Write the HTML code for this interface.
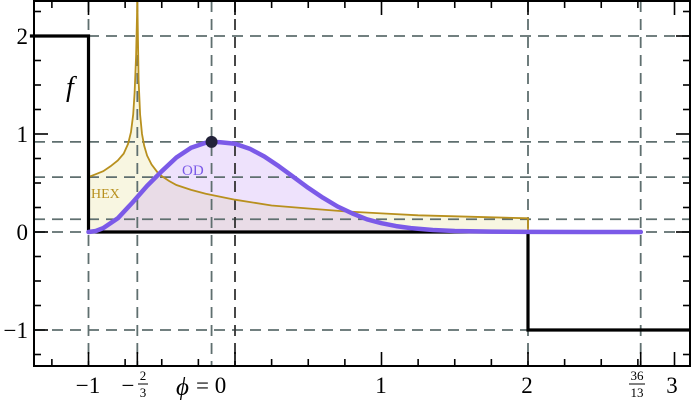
<!DOCTYPE html>
<html><head><meta charset="utf-8"><style>
html,body{margin:0;padding:0;background:#fff;}
svg{display:block;}
text{font-family:"Liberation Serif",serif;}
</style></head><body>
<svg id="chart" width="692" height="400" viewBox="0 0 692 400" xmlns="http://www.w3.org/2000/svg"></svg>
<script>
// ---- data ----
const fX = [-1.4, -1, -1, 2, 2, 3.11];
const fY = [2, 2, 0, 0, -1, -1];
const hexX = [-1, -0.95, -0.9, -0.85, -0.8, -0.76, -0.73, -0.71, -0.695, -0.685, -0.675, -0.669, -0.667, -0.665, -0.658, -0.648, -0.635, -0.62, -0.6, -0.57, -0.53, -0.5, -0.45, -0.4, -0.3, -0.2, -0.1, 0, 0.25, 0.5, 0.75, 1, 1.25, 1.5, 1.75, 2];
const hexY = [0.56, 0.59, 0.62, 0.67, 0.73, 0.8, 0.9, 1.02, 1.2, 1.42, 1.8, 2.2, 2.4, 2.2, 1.55, 1.2, 1.0, 0.88, 0.78, 0.69, 0.61, 0.57, 0.52, 0.48, 0.43, 0.39, 0.36, 0.33, 0.27, 0.24, 0.21, 0.19, 0.17, 0.16, 0.15, 0.14];
const odX = [-1, -0.95, -0.9, -0.8, -0.7, -0.6, -0.5, -0.4, -0.3, -0.2, -0.16, -0.1, 0, 0.1, 0.2, 0.3, 0.4, 0.5, 0.6, 0.7, 0.8, 0.9, 1.0, 1.1, 1.2, 1.35, 1.5, 1.75, 2, 2.4, 2.77];
const odY = [0, 0.01, 0.04, 0.14, 0.3, 0.47, 0.62, 0.76, 0.86, 0.91, 0.92, 0.915, 0.9, 0.85, 0.77, 0.67, 0.56, 0.45, 0.35, 0.26, 0.19, 0.13, 0.09, 0.06, 0.04, 0.02, 0.01, 0.004, 0.001, 0, 0];
const peakPoint = [-0.16, 0.92];
const hLines = [2, 0.92, 0.56, 0.13, 0, -1];
const vLines = [-1, -2/3, -0.16, 0, 2, 36/13];
const yTickVals = [2, 1, 0, -1];
const yTickLabels = ["2", "1", "0", "\u22121"];

// ---- axes ----
const L = 34, R = 690, T = 1, B = 366;
const X0 = 235, XS = 146.5, Y0 = 232, YS = 98;
const sx = v => X0 + v * XS;
const sy = v => Y0 - v * YS;
const svg = document.getElementById('chart');
const NS = 'http://www.w3.org/2000/svg';
function mk(tag, attrs, parent) {
  const e = document.createElementNS(NS, tag);
  for (const k in attrs) e.setAttribute(k, attrs[k]);
  (parent || svg).appendChild(e);
  return e;
}
function pts(xs, ys) { return xs.map((x, i) => sx(x).toFixed(1) + ',' + sy(ys[i]).toFixed(1)); }

// fills
let hf = mk('polygon', {points: pts(hexX, hexY).concat([sx(2) + ',' + sy(0), sx(-1) + ',' + sy(0)]).join(' '), fill: 'rgba(236,230,170,0.35)', stroke: 'none'});
 
let of = mk('polygon', {points: pts(odX, odY).concat([sx(-1) + ',' + sy(0)]).join(' '), fill: 'rgba(200,160,245,0.3)', stroke: 'none'});
 

// grid
hLines.forEach(v => {
  const g = mk('line', {x1: L, x2: R, y1: sy(v), y2: sy(v), stroke: '#5f6f6f', 'stroke-width': 1.8, 'stroke-dasharray': '11,7'});
   
});
vLines.forEach(v => {
  const g = mk('line', {x1: sx(v), x2: sx(v), y1: T, y2: B, stroke: v === 0 ? '#333' : '#5f6f6f', 'stroke-width': 1.8, 'stroke-dasharray': '11,7'});
   
});

// series
let hl = mk('polyline', {points: pts(hexX, hexY).concat([sx(2) + ',' + sy(0)]).join(' '), fill: 'none', stroke: '#b8901e', 'stroke-width': 1.8});
 
let fl = mk('polyline', {points: pts(fX, fY).join(' '), fill: 'none', stroke: '#000', 'stroke-width': 3.2});
 
let ol = mk('polyline', {points: pts(odX, odY).join(' '), fill: 'none', stroke: '#7b5ae8', 'stroke-width': 4.5, 'stroke-linejoin': 'round', 'stroke-linecap': 'round'});
 
let dot = mk('circle', {cx: sx(peakPoint[0]), cy: sy(peakPoint[1]), r: 6, fill: '#22223a'});
 

// ticks
for (let k = -5; k <= 12; k++) {
  const v = k * 0.25; const x = sx(v);
  if (x < L || x > R) continue;
  const len = (k % 4 === 0) ? 14 : 7;
  const t = mk('line', {x1: x, x2: x, y1: B, y2: B - len, stroke: '#000', 'stroke-width': 1.6});
   
  const t2 = mk('line', {x1: x, x2: x, y1: T, y2: T + len, stroke: '#000', 'stroke-width': 1.6});
   
}
[-2/3, 36/13].forEach(v => {
  const t = mk('line', {x1: sx(v), x2: sx(v), y1: B, y2: B - 14, stroke: '#000', 'stroke-width': 1.6});
   
});
for (let k = -5; k <= 9; k++) {
  const v = k * 0.25; const y = sy(v);
  if (y < T || y > B) continue;
  const len = (k % 4 === 0) ? 14 : 7;
  const t = mk('line', {x1: L, x2: L + len, y1: y, y2: y, stroke: '#000', 'stroke-width': 1.6});
   
  const t2 = mk('line', {x1: R, x2: R - len, y1: y, y2: y, stroke: '#000', 'stroke-width': 1.6});
   
}
yTickVals.forEach((v, i) => {
  const t = mk('text', {x: 28, y: sy(v) + 8, 'font-size': 23, 'text-anchor': 'end'});
  t.textContent = yTickLabels[i];
   
});
</script>
<svg style="position:absolute;left:0;top:0" width="692" height="400">
  <rect x="34" y="1" width="656" height="365" fill="none" stroke="#000" stroke-width="2"/>
  <text x="88" y="393" font-size="23" text-anchor="middle" font-family="Liberation Serif,serif">−1</text>
  <text x="128" y="393" font-size="23" text-anchor="middle" font-family="Liberation Serif,serif">−</text>
  <text x="143" y="380" font-size="13" text-anchor="middle" font-family="Liberation Serif,serif">2</text>
  <line x1="138" x2="148" y1="384" y2="384" stroke="#000" stroke-width="1"/>
  <text x="143" y="397" font-size="13" text-anchor="middle" font-family="Liberation Serif,serif">3</text>
  <text x="176" y="395" font-size="25" font-style="italic" font-family="Liberation Serif,serif">ϕ</text>
  <text x="196" y="393" font-size="23" font-family="Liberation Serif,serif">= 0</text>
  <text x="381" y="393" font-size="23" text-anchor="middle" font-family="Liberation Serif,serif">1</text>
  <text x="527" y="393" font-size="23" text-anchor="middle" font-family="Liberation Serif,serif">2</text>
  <text x="637" y="380" font-size="13" text-anchor="middle" font-family="Liberation Serif,serif">36</text>
  <line x1="629" x2="645" y1="384" y2="384" stroke="#000" stroke-width="1"/>
  <text x="637" y="397" font-size="13" text-anchor="middle" font-family="Liberation Serif,serif">13</text>
  <text x="672" y="393" font-size="23" text-anchor="middle" font-family="Liberation Serif,serif">3</text>
  <text x="66" y="96" font-size="28" font-style="italic" font-family="Liberation Serif,serif">f</text>
  <text x="91" y="198" font-size="14" fill="#b8901e" font-family="Liberation Serif,serif">HEX</text>
  <text x="182" y="175" font-size="15" fill="#7b5ae8" font-family="Liberation Serif,serif">OD</text>
</svg>
</body></html>
